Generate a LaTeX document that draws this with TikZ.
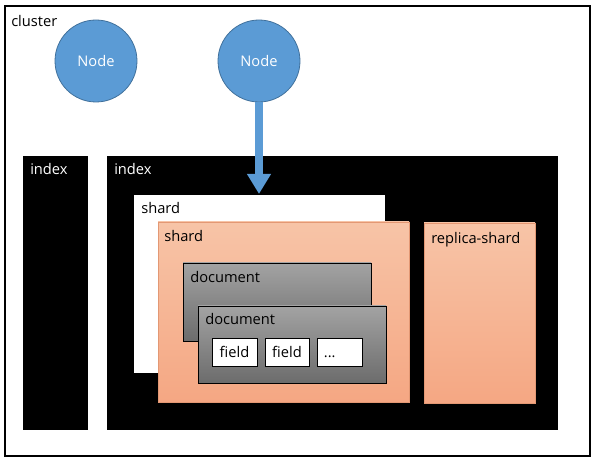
\documentclass[tikz,border=0pt]{standalone}
\usepackage{fontspec}
\setmainfont{Open Sans}
\usetikzlibrary{arrows.meta,fit}
\definecolor{nodeblue}{HTML}{5B9BD5}
\definecolor{nodeedge}{HTML}{41719C}
\definecolor{orangetop}{HTML}{F7C4A7}
\definecolor{orangebot}{HTML}{F5A783}
\definecolor{orangeedge}{HTML}{E39874}
\definecolor{graytop}{HTML}{A3A3A3}
\definecolor{graybot}{HTML}{6C6C6C}
\tikzset{
  px/.style={x=0.75pt,y=-0.75pt},
  area/.style={inner sep=0pt, outer sep=0pt},
  blackbox/.style={area, fill=black},
  whitebox/.style={area, fill=white},
  orangebox/.style={area, top color=orangetop, bottom color=orangebot, draw=orangeedge, line width=0.5pt},
  docbox/.style={area, top color=graytop, bottom color=graybot, draw=black, line width=0.6pt},
  fieldbox/.style={area, fill=white, draw=black, line width=0.6pt},
  lbl/.style={anchor=north west, inner sep=0pt, font=\fontsize{11pt}{13pt}\selectfont},
  ctr/.style={inner sep=0pt, font=\fontsize{11pt}{13pt}\selectfont},
  nodecircle/.style={circle, fill=nodeblue, draw=nodeedge, line width=0.6pt, minimum size=61.5pt, inner sep=0pt, text=white, font=\fontsize{11pt}{13pt}\selectfont},
  flow/.style={draw=nodeblue, line width=6pt, -{Triangle[width=17pt,length=15pt]}},
}
\begin{document}
\begin{tikzpicture}[px]
\useasboundingbox (0,0) rectangle (601,463);
\fill[white] (0,0) rectangle (601,463);
% cluster
\node[area, draw=black, line width=0.8pt, fit={(5,6) (590,456)}] (cluster) {};
\node[lbl] (clusterlbl) at (11,15) {cluster};
% nodes
\node[nodecircle] (n1) at (96,61) {Node};
\node[nodecircle] (n2) at (259,61) {Node};
% indices
\node[blackbox, fit={(23,156) (88,430)}] (idx1) {};
\node[lbl, text=white] (idx1lbl) at (30,163) {index};
\node[blackbox, fit={(107,156) (558,430)}] (idx2) {};
\node[lbl, text=white] (idx2lbl) at (114,163) {index};
% shards
\node[whitebox, fit={(134,195) (385,373)}] (sh1) {};
\node[lbl] (sh1lbl) at (141,202) {shard};
\node[orangebox, fit={(158,222) (409,402)}] (sh2) {};
\node[lbl] (sh2lbl) at (164,230) {shard};
\node[orangebox, fit={(424,223) (535,403)}] (rep) {};
\node[lbl] (replbl) at (431,232) {replica-shard};
% documents
\node[docbox, fit={(183,263) (371,341)}] (doc1) {};
\node[lbl] (doc1lbl) at (190,271) {document};
\node[docbox, fit={(198,306) (386,383)}] (doc2) {};
\node[lbl] (doc2lbl) at (205,313) {document};
% fields
\node[fieldbox, fit={(212,338) (257,366)}] (f1) {};
\node[ctr] at (f1.center) {field};
\node[fieldbox, fit={(265,338) (309,366)}] (f2) {};
\node[ctr] at (f2.center) {field};
\node[fieldbox, fit={(317,338) (362,366)}] (f3) {};
\node[ctr, anchor=base west] at ([xshift=5pt,yshift=-4.5pt]f3.west) {...};
% arrow
\coordinate (tip) at (259,194);
\draw[flow] (n2.south) -- (tip);
\end{tikzpicture}
\end{document}
